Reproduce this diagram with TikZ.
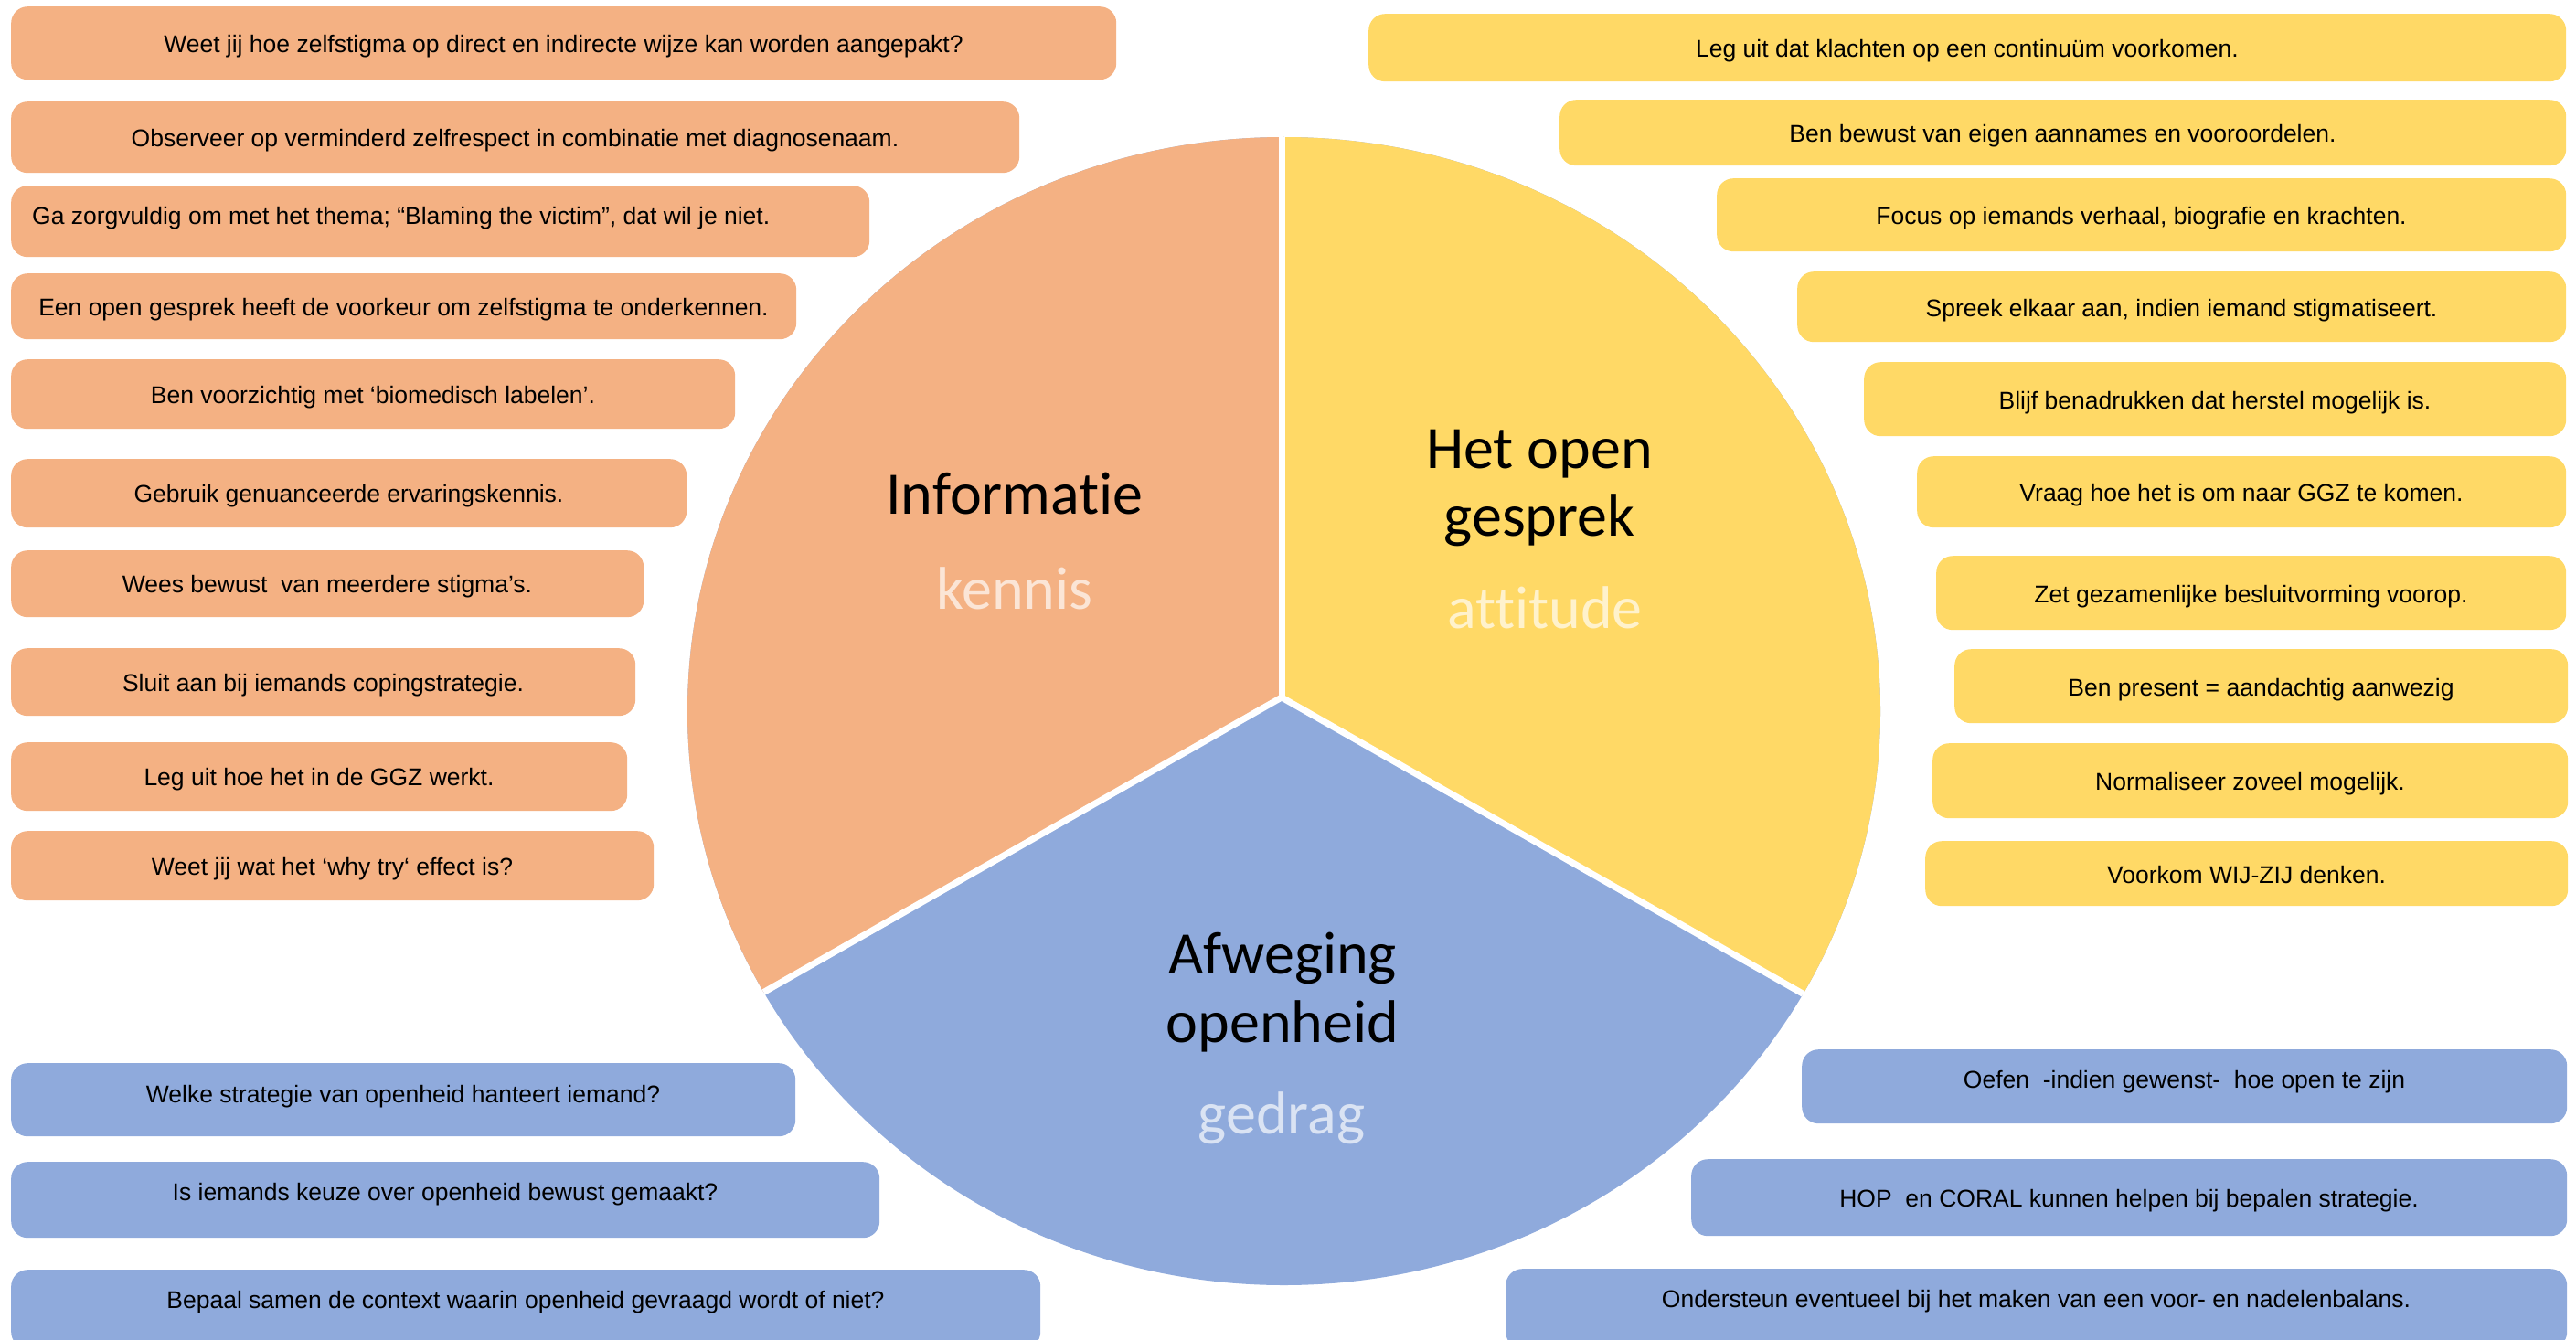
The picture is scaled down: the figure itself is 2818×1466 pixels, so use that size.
\documentclass[tikz,border=0pt]{standalone}
\usepackage{fontspec}
\setmainfont{Liberation Sans}
\newfontfamily\piefont{Carlito}[Ligatures={NoCommon}]

\definecolor{pieorange}{HTML}{F4B183}
\definecolor{pieyellow}{HTML}{FFD966}
\definecolor{pieblue}{HTML}{8FAADC}
\definecolor{suborange}{HTML}{FBE5D6}
\definecolor{subyellow}{HTML}{FFF2CC}
\definecolor{subblue}{HTML}{DAE3F3}

% #1 name, #2 fill, #3 x1, #4 y1, #5 x2, #6 y2, #7 text centre y, #8 text
\newcommand\tipbox[8]{%
  \node[tipbox, fill=#2, minimum width={(#5-#3)*1pt}, minimum height={(#6-#4)*1pt},
        anchor=north west] (#1) at (#3,#4) {};
  \node[tiptext] (#1-txt) at ({(#3+#5)/2},#7) {#8};
}

\begin{document}
\begin{tikzpicture}[x=1pt, y=-1pt,
  tipbox/.style={rectangle, rounded corners=18pt, inner sep=0pt, draw=none},
  tiptext/.style={inner sep=0pt, font=\fontsize{26.5}{30}\selectfont,
                  text height=19pt, text depth=5.6pt, yshift=-4pt},
  pietitle/.style={inner sep=0pt, anchor=base, text=black,
                   font=\piefont\fontsize{66}{72}\selectfont},
  piesub/.style={pietitle, text=#1},
  slicegap/.style={draw=white, line width=7pt}]

\clip (0,0) rectangle (2818,1466);

% ---------- pie ----------
\coordinate (J) at (1402,763);
\coordinate (top) at (1402,-20);
\coordinate (ll) at (0,1561);
\coordinate (lr) at (2818,1568);
\begin{scope}
  \clip (1404.5,778) ellipse [x radius=652.5pt, y radius=628pt];
  \fill[pieblue] (0,0) rectangle (2818,1466);
  \fill[pieorange] (J) -- (top) -- (0,-20) -- (ll) -- cycle;
  \fill[pieyellow] (J) -- (top) -- (2818,-20) -- (lr) -- cycle;
  \draw[slicegap] (J) -- (top);
  \draw[slicegap] (J) -- (ll);
  \draw[slicegap] (J) -- (lr);
\end{scope}

\node[pietitle] (info) at (1110,562) {Informatie};
\node[piesub=suborange] (kennis) at (1110,666) {kennis};
\node[pietitle] (het1) at (1684,512) {Het open};
\node[pietitle] (het2) at (1684,586) {gesprek};
\node[piesub=subyellow] (attitude) at (1690,687) {attitude};
\node[pietitle] (afw1) at (1403,1065) {Afweging};
\node[pietitle] (afw2) at (1403,1140) {openheid};
\node[piesub=subblue] (gedrag) at (1402,1240) {gedrag};

% ---------- kennis (left, orange) ----------
\tipbox{o1}{pieorange}{12}{7}{1221}{87}{47}{Weet jij hoe zelfstigma op direct en indirecte wijze kan worden aangepakt?}
\tipbox{o2}{pieorange}{12}{111}{1115}{189}{150}{Observeer op verminderd zelfrespect in combinatie met diagnosenaam.}
\node[tipbox, fill=pieorange, minimum width=939pt, minimum height=78pt, anchor=north west] (o3) at (12,203) {};
\node[tiptext, anchor=west] (o3-txt) at (35,235) {Ga zorgvuldig om met het thema; “Blaming the victim”, dat wil je niet.};
\tipbox{o4}{pieorange}{12}{299}{871}{371}{335}{Een open gesprek heeft de voorkeur om zelfstigma te onderkennen.}
\tipbox{o5}{pieorange}{12}{393}{804}{469}{431}{Ben voorzichtig met ‘biomedisch labelen’.}
\tipbox{o6}{pieorange}{12}{502}{751}{577}{539}{Gebruik genuanceerde ervaringskennis.}
\tipbox{o7}{pieorange}{12}{602}{704}{675}{638}{Wees bewust\ \ van meerdere stigma’s.}
\tipbox{o8}{pieorange}{12}{709}{695}{783}{746}{Sluit aan bij iemands copingstrategie.}
\tipbox{o9}{pieorange}{12}{812}{686}{887}{849}{Leg uit hoe het in de GGZ werkt.}
\tipbox{o10}{pieorange}{12}{909}{715}{985}{947}{Weet jij wat het ‘why try‘ effect is?}

% ---------- attitude (right, yellow) ----------
\tipbox{y1}{pieyellow}{1497}{15}{2807}{89}{52}{Leg uit dat klachten op een continuüm voorkomen.}
\tipbox{y2}{pieyellow}{1706}{109}{2807}{181}{145}{Ben bewust van eigen aannames en vooroordelen.}
\tipbox{y3}{pieyellow}{1878}{195}{2807}{275}{235}{Focus op iemands verhaal, biografie en krachten.}
\tipbox{y4}{pieyellow}{1966}{297}{2807}{374}{336}{Spreek elkaar aan, indien iemand stigmatiseert.}
\tipbox{y5}{pieyellow}{2039}{396}{2807}{477}{437}{Blijf benadrukken dat herstel mogelijk is.}
\tipbox{y6}{pieyellow}{2097}{499}{2807}{577}{538}{Vraag hoe het is om naar GGZ te komen.}
\tipbox{y7}{pieyellow}{2118}{608}{2807}{689}{649}{Zet gezamenlijke besluitvorming voorop.}
\tipbox{y8}{pieyellow}{2138}{710}{2809}{791}{751}{Ben present = aandachtig aanwezig}
\tipbox{y9}{pieyellow}{2114}{813}{2809}{895}{854}{Normaliseer zoveel mogelijk.}
\tipbox{y10}{pieyellow}{2106}{920}{2809}{991}{956}{Voorkom WIJ-ZIJ denken.}

% ---------- gedrag (bottom, blue) ----------
\tipbox{b1}{pieblue}{12}{1163}{870}{1243}{1196}{Welke strategie van openheid hanteert iemand?}
\tipbox{b2}{pieblue}{12}{1271}{962}{1354}{1303}{Is iemands keuze over openheid bewust gemaakt?}
\tipbox{b3}{pieblue}{12}{1389}{1138}{1475}{1421}{Bepaal samen de context waarin openheid gevraagd wordt of niet?}
\tipbox{b4}{pieblue}{1971}{1148}{2808}{1229}{1180}{Oefen\ \ -indien gewenst-\ \ hoe open te zijn}
\tipbox{b5}{pieblue}{1850}{1268}{2808}{1352}{1310}{HOP\ \ en CORAL kunnen helpen bij bepalen strategie.}
\tipbox{b6}{pieblue}{1647}{1388}{2808}{1475}{1420}{Ondersteun eventueel bij het maken van een voor- en nadelenbalans.}

\end{tikzpicture}
\end{document}
